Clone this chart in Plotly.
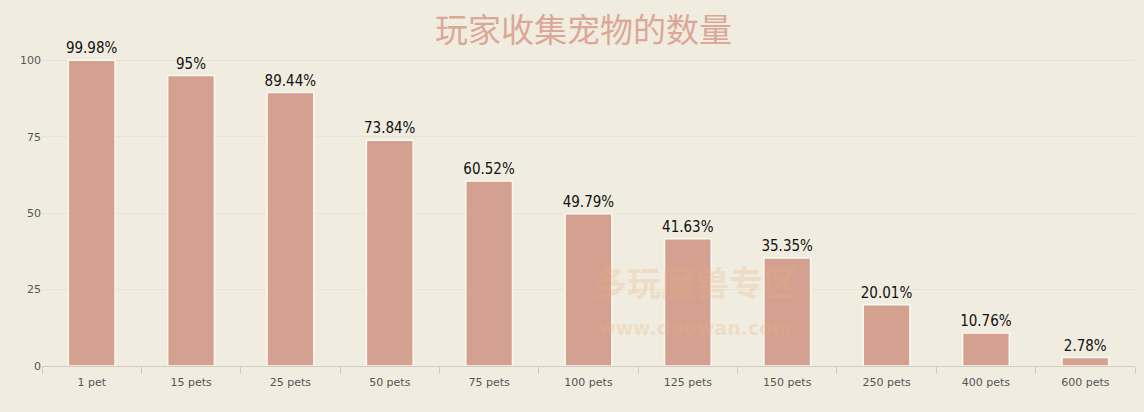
import plotly.graph_objects as go

categories = ["1 pet", "15 pets", "25 pets", "50 pets", "75 pets", "100 pets",
              "125 pets", "150 pets", "250 pets", "400 pets", "600 pets"]
values = [99.98, 95, 89.44, 73.84, 60.52, 49.79, 41.63, 35.35, 20.01, 10.76, 2.78]
labels = ["99.98%", "95%", "89.44%", "73.84%", "60.52%", "49.79%",
          "41.63%", "35.35%", "20.01%", "10.76%", "2.78%"]
y_ticks = [0, 25, 50, 75, 100]

bg = "#f0ede0"
bar_color = "#d4a190"

fig = go.Figure(go.Bar(
    x=categories, y=values, text=labels, textposition="outside",
    textfont=dict(family="DejaVu Sans Condensed", size=15, color="#111"),
    constraintext="none", textangle=0,
    marker=dict(color=bar_color, line=dict(color="#fbf8ef", width=1.5)),
    cliponaxis=False,
))

fig.update_layout(
    width=1144, height=412,
    paper_bgcolor=bg, plot_bgcolor=bg,
    margin=dict(l=42, r=9, t=45, b=46),
    bargap=0.53,
    showlegend=False,
    title=dict(text="玩家收集宠物的数量", x=0.51, xanchor="center", y=0.925, yanchor="middle",
               font=dict(family="Noto Sans CJK SC", size=33, color="#dba898")),
    xaxis=dict(showgrid=False, showline=True, linecolor="#cfccc0", linewidth=1,
               ticks="outside", tickcolor="#cfccc0", ticklen=7, tickson="boundaries",
               ticklabelstandoff=6,
               tickfont=dict(family="DejaVu Sans", size=11, color="#555"),
               range=[-0.5, 10.5]),
    yaxis=dict(range=[0, 105], tickvals=y_ticks, showgrid=True, gridcolor="#e8e4d5",
               gridwidth=1, zeroline=False, ticks="",
               tickfont=dict(family="DejaVu Sans", size=11, color="#555")),
    annotations=[
        dict(text="<b>多玩魔兽专区</b>", x=0.597, y=0.18, xref="paper", yref="paper",
             showarrow=False, opacity=0.25,
             font=dict(family="Noto Sans CJK SC", size=34, color="#e8b080")),
        dict(text="<b>www.duowan.com</b>", x=0.597, y=0.078, xref="paper", yref="paper",
             showarrow=False, opacity=0.25,
             font=dict(family="DejaVu Sans", size=19, color="#e8b080")),
    ],
)

fig.write_html("out.html", config={"displayModeBar": False},
               post_script="document.body.style.margin='0';document.body.style.background='#f0ede0';")
